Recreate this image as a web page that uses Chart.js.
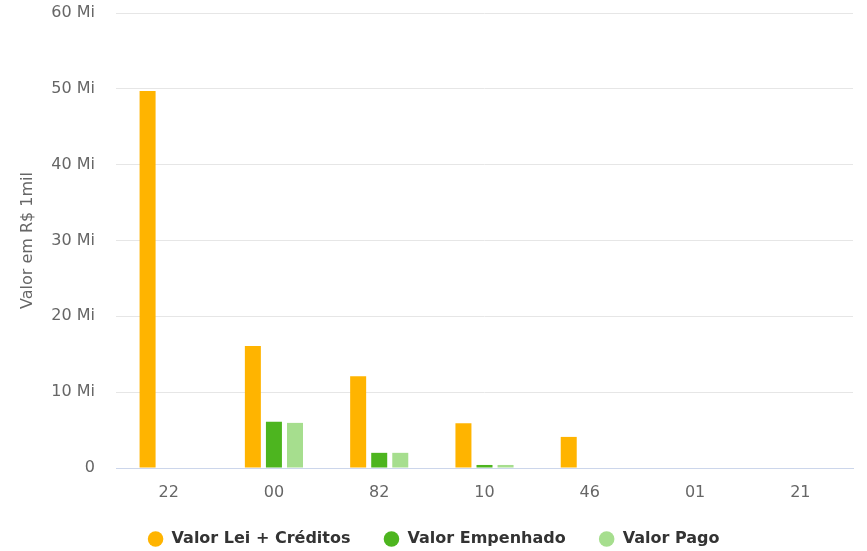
<!DOCTYPE html>
<html>
<head>
<meta charset="utf-8">
<script src="https://cdn.jsdelivr.net/npm/chart.js@4"></script>
<style>
  html, body { margin: 0; padding: 0; background: #ffffff; }
  #box { width: 867px; height: 551px; }
</style>
</head>
<body>
<div id="box"><canvas id="grafico"></canvas></div>
<script>
// ── DONNÉES (valeurs en millions) ─────────────────
const categorias   = ['22', '00', '82', '10', '46', '01', '21'];
const valorLei     = [49.7, 16.1, 12.1, 5.9, 4.1, 0, 0];
const valorEmpenh  = [0, 6.1, 2.0, 0.4, 0, 0, 0];
const valorPago    = [0, 5.95, 2.0, 0.4, 0, 0, 0];
const ticksY       = [0, 10, 20, 30, 40, 50, 60];

const CORES = {
  lei:   '#ffb400',
  emp:   '#4db51f',
  pago:  '#a6de8e',
  texto: '#666666',
  grade: '#e6e6e6',
  eixo:  '#ccd6eb'
};

const FONTE = 'DejaVu Sans';

function serie(label, data, cor) {
  return {
    label: label,
    data: data,
    backgroundColor: cor,
    borderWidth: 0,
    categoryPercentage: 0.6,
    barPercentage: 0.76
  };
}

new Chart(document.getElementById('grafico'), {
  type: 'bar',
  data: {
    labels: categorias,
    datasets: [
      serie('Valor Lei + Créditos', valorLei, CORES.lei),
      serie('Valor Empenhado', valorEmpenh, CORES.emp),
      serie('Valor Pago', valorPago, CORES.pago)
    ]
  },
  options: {
    responsive: true,
    maintainAspectRatio: false,
    animation: false,
    layout: { padding: { left: 14, right: 14, top: 13, bottom: -6 } },
    plugins: {
      tooltip: { enabled: false },
      legend: {
        position: 'bottom',
        labels: {
          usePointStyle: true,
          pointStyle: 'circle',
          boxWidth: 16,
          boxHeight: 11,
          padding: 33,
          color: '#333333',
          font: { family: FONTE, size: 16, weight: 'bold' }
        }
      }
    },
    scales: {
      x: {
        grid: { display: false },
        border: { color: CORES.eixo, width: 1 },
        ticks: { color: CORES.texto, font: { family: FONTE, size: 16 }, padding: 7 },
        afterFit: function(s) { s.height = 30; }
      },
      y: {
        min: 0,
        max: 60,
        afterBuildTicks: function(s) { s.ticks = ticksY.map(v => ({ value: v })); },
        grid: { color: CORES.grade, drawTicks: false },
        border: { display: false },
        ticks: {
          color: CORES.texto,
          padding: 21,
          font: { family: FONTE, size: 16 },
          callback: function(v) { return v === 0 ? '0' : v + ' Mi'; }
        },
        title: {
          display: true,
          text: 'Valor em R$ 1mil',
          color: CORES.texto,
          font: { family: FONTE, size: 16 },
          padding: { top: 4, bottom: 0 }
        },
        afterFit: function(s) { s.width = 102; s.paddingTop = 0; }
      }
    }
  }
});
</script>
</body>
</html>
